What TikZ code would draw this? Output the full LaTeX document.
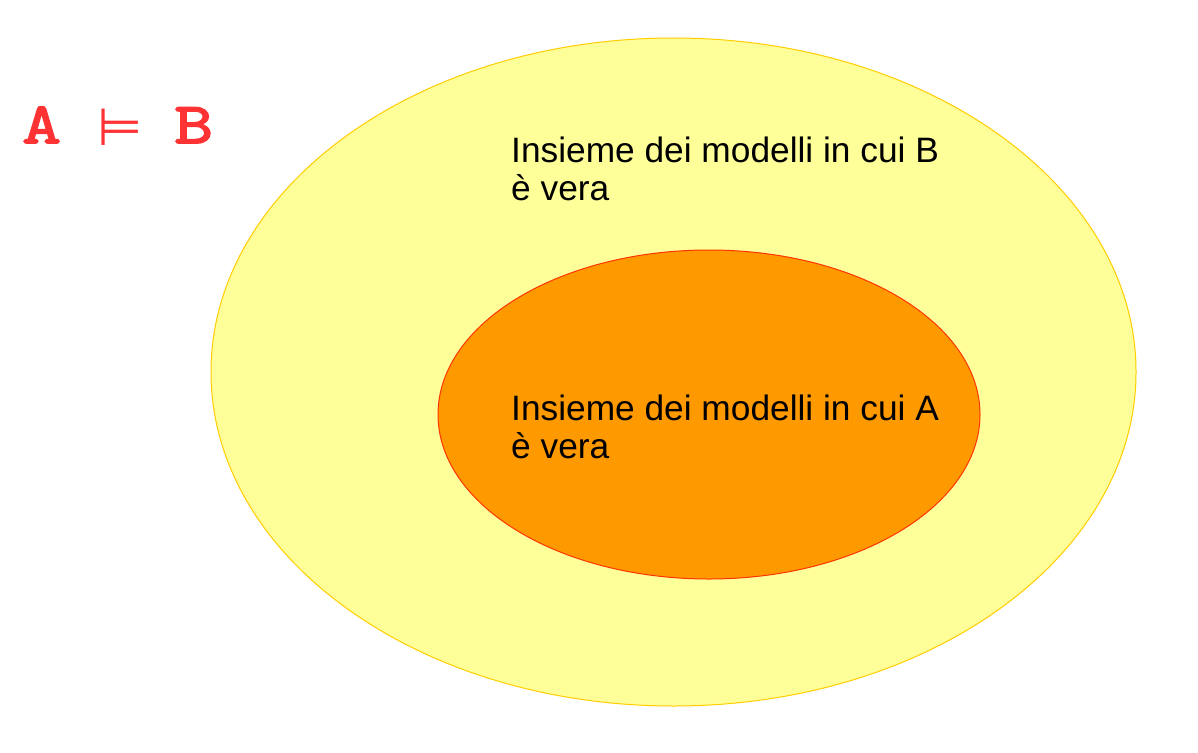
\documentclass[tikz,border=0pt]{standalone}
\usepackage{fontspec}
\setmainfont{Liberation Sans}
\newfontfamily\symf{DejaVu Sans}
\newfontfamily\courb[FakeBold=3,FakeStretch=1.3]{Latin Modern Mono}
\definecolor{setB}{HTML}{FFFF99}
\definecolor{setBline}{HTML}{FFCC00}
\definecolor{setA}{HTML}{FF9900}
\definecolor{setAline}{HTML}{FF3300}
\definecolor{formula}{HTML}{FF3333}
\tikzset{
  lbl/.style={inner sep=0pt, align=left, font=\fontsize{35.3}{38}\selectfont, anchor=base west},
  ftxt/.style={inner sep=0pt, text=formula, anchor=base west},
  letter/.style={ftxt, font=\courb\fontsize{58}{58}\selectfont}
}
\begin{document}
\begin{tikzpicture}[x=1pt,y=-1pt]
\useasboundingbox (0,0) rectangle (1198,752);
\fill[white] (0,0) rectangle (1198,752);
\draw[setBline, fill=setB, line width=1pt] (673.5,372) ellipse[x radius=462.5, y radius=334];
\draw[setAline, fill=setA, line width=1pt] (709,414.5) ellipse[x radius=271, y radius=164.5];
\node[lbl] (textB) at (511,200) {Insieme dei modelli in cui B\\è vera};
\node[lbl] (textA) at (511,458) {Insieme dei modelli in cui A\\è vera};
\node[letter] (fA) at (22,143) {A};
\node[ftxt, font=\symf\fontsize{52}{52}\selectfont] (fmod) at (97,145) {⊨};
\node[letter] (fB) at (174,143) {B};
\end{tikzpicture}
\end{document}
